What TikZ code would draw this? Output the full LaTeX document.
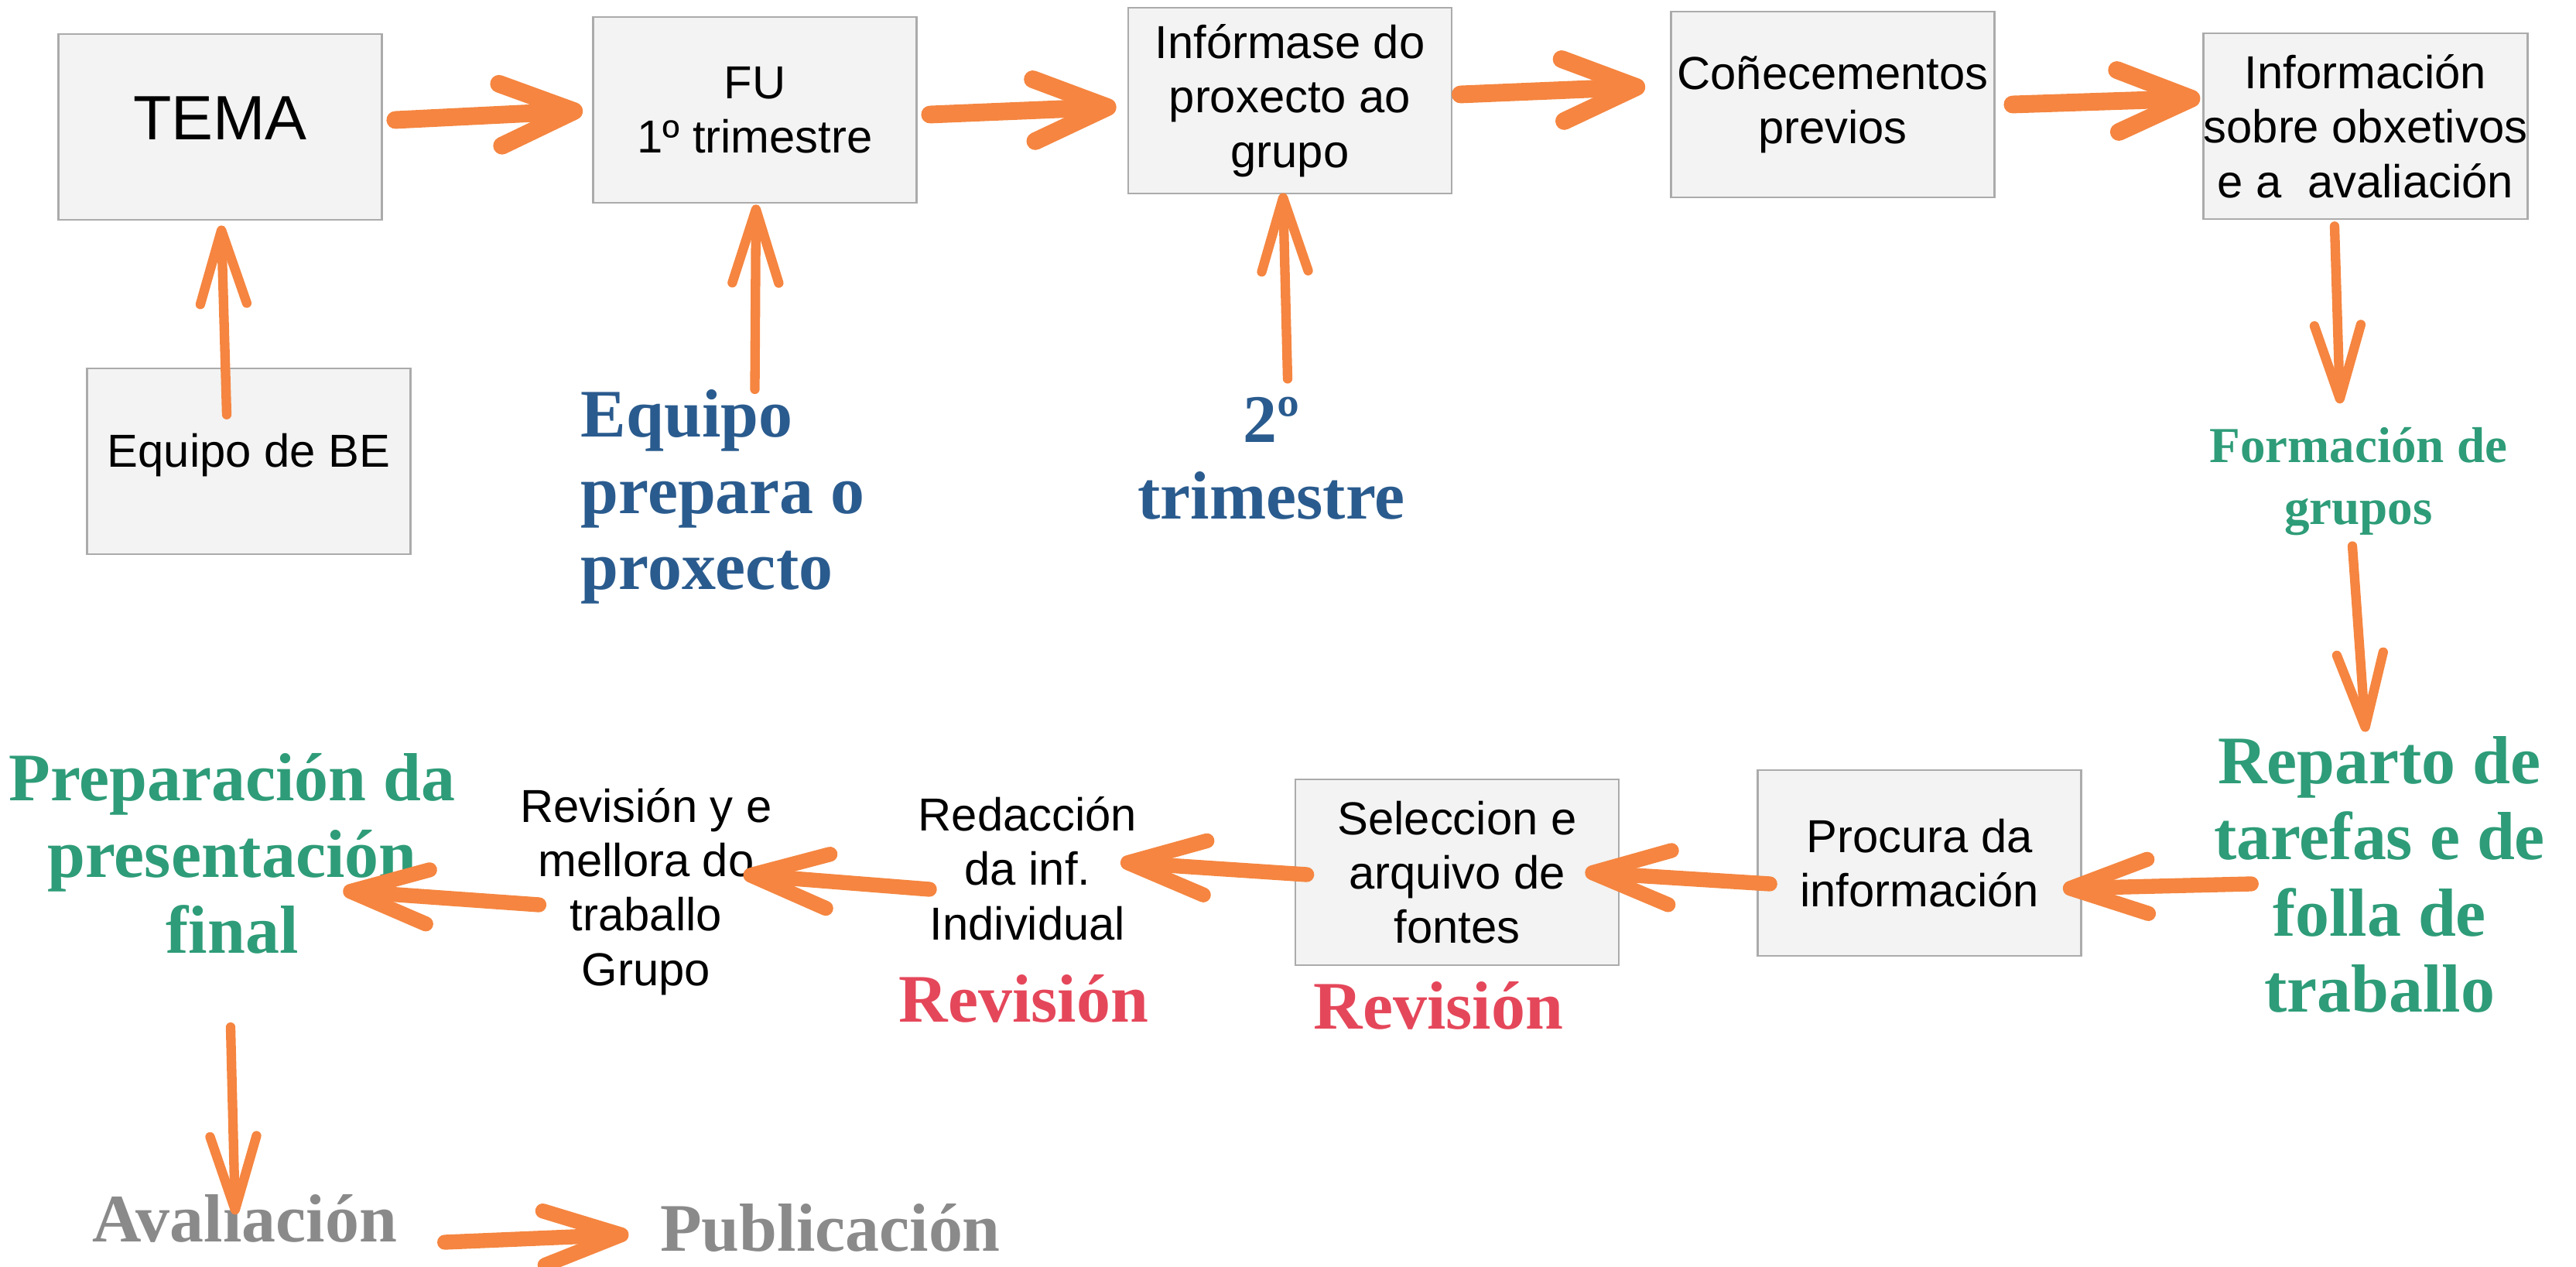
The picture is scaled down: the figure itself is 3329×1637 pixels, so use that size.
\documentclass[tikz,border=0pt]{standalone}
\usepackage{fontspec}
\setmainfont{Liberation Sans}
\newfontfamily\sketchfont{Liberation Serif}
\usepackage{tikz}
\usetikzlibrary{arrows.meta}

\definecolor{boxfill}{RGB}{242,243,242}
\definecolor{boxline}{RGB}{171,171,171}
\definecolor{arrowc}{RGB}{245,133,64}
\definecolor{inkblue}{RGB}{42,91,142}
\definecolor{inkgreen}{RGB}{46,156,120}
\definecolor{inkred}{RGB}{229,71,90}
\definecolor{inkgray}{RGB}{138,138,138}

\begin{document}
\begin{tikzpicture}[x=0.01cm,y=-0.01cm]
            \useasboundingbox (0,0) rectangle (3329,1637);

            \begin{scope}[every node/.style={draw=boxline,fill=boxfill,line width=0.7pt,
                          minimum width=4.18cm,minimum height=2.4cm,inner sep=0pt,
                          align=center,font=\fontsize{17}{20}\selectfont}]
                \node[text depth=0.22cm] (tema) at (284.5,164) {\fontsize{23}{26}\selectfont TEMA};
                \node (fu) at (975.5,142) {FU\\1º trimestre};
                \node[text depth=0.29cm] (equipobe) at (321.5,596) {Equipo de BE};
                \node (informase) at (1667,130) {Infórmase do\\proxecto ao\\grupo};
                \node (conecementos) at (2368.5,135) {Coñecementos\\previos};
                \node (informacion) at (3057,163) {Información\\sobre obxetivos\\e a\ \ avaliación};
                \node (procura) at (2480.5,1115) {Procura da\\información};
                \node (seleccion) at (1883,1127) {Seleccion e\\arquivo de\\fontes};
            \end{scope}

            \begin{scope}[every node/.style={align=center,inner sep=0pt,
                          font=\fontsize{17}{20}\selectfont}]
                \node (redaccion) at (1328,1122) {Redacción\\da inf.\\Individual};
                \node (revgrupo) at (835,1152) {Revisión y e\\mellora do\\traballo\\Grupo};
            \end{scope}

            \begin{scope}[every node/.style={align=center,inner sep=0pt,
                          font=\sketchfont\bfseries\fontsize{25}{28}\selectfont}]
                \node[text=inkblue,anchor=west,align=left] (equipoprep) at (750,642) {Equipo\\prepara o\\proxecto};
                \node[text=inkblue] (trimestre2) at (1643,592) {2º\\trimestre};
                \node[text=inkgreen,font=\sketchfont\bfseries\fontsize{18.5}{22.8}\selectfont] (formacion) at (3048,622) {Formación de\\grupos};
                \node[text=inkgreen] (reparto) at (3075,1130) {Reparto de\\tarefas e de\\folla de\\traballo};
                \node[text=inkred] (revseleccion) at (1859,1299) {Revisión};
                \node[text=inkred] (revredaccion) at (1323,1290) {Revisión};
                \node[text=inkgreen] (preparacion) at (300,1103) {Preparación da\\presentación\\final};
                \node[text=inkgray] (avaliacion) at (316,1574) {Avaliación};
                \node[text=inkgray] (publicacion) at (1073,1586) {Publicación};
            \end{scope}

            % fila de arriba
            \begin{scope}[>={Straight Barb[length=0.95cm,width=0.8cm,round]},
                          every edge/.style={draw=arrowc,line width=6.5pt,line cap=round}]
                \path [->] ([shift={(16,-9)}]tema.east) edge ([shift={(-12,1)}]fu.west);
                \path [->] ([shift={(16,6)}]fu.east) edge ([shift={(-14,8)}]informase.west);
                \path [->] ([shift={(10,-8)}]informase.east) edge ([shift={(-32,-23)}]conecementos.west);
                \path [->] ([shift={(22,0)}]conecementos.east) edge ([shift={(-3,-36)}]informacion.west);
            \end{scope}

            % frechas verticais
            \begin{scope}[>={Straight Barb[length=0.95cm,width=0.6cm,round]},
                          every edge/.style={draw=arrowc,line width=3.5pt,line cap=round}]
                \path [->] ([shift={(-28.5,61)}]equipobe.north) edge ([shift={(1.5,6)}]tema.south);
                \path [->] (equipoprep.north -| fu.south) edge ([shift={(1.5,1)}]fu.south);
                \path [->] ([shift={(21,-23)}]trimestre2.north) edge ([shift={(-9,-2)}]informase.south);
                \path [->] ([shift={(-40,8)}]informacion.south) edge ([shift={(-24,-30)}]formacion.north);
                \path [->] ([shift={(-8,13)}]formacion.south) edge ([shift={(-18,-5)}]reparto.north);
                \path [->] ([shift={(-2,94)}]preparacion.south) edge ([shift={(-12,27)}]avaliacion.north);
            \end{scope}

            % fila de abaixo
            \begin{scope}[>={Straight Barb[length=1cm,width=0.7cm,round]},
                          every edge/.style={draw=arrowc,line width=5.5pt,line cap=round}]
                \path [->] ([shift={(49,12)}]reparto.west) edge ([shift={(-25,33)}]procura.east);
                \path [->] ([shift={(17,27)}]procura.west) edge ([shift={(-45,0)}]seleccion.east);
                \path [->] ([shift={(16,3)}]seleccion.west) edge ([shift={(-22,-8)}]redaccion.east);
                \path [->] ([shift={(15,27)}]redaccion.west) edge ([shift={(-38,-22)}]revgrupo.east);
                \path [->] ([shift={(25,17)}]revgrupo.west) edge ([shift={(-146,48)}]preparacion.east);
                \path [->] ([shift={(61,31)}]avaliacion.east) edge ([shift={(-40,9)}]publicacion.west);
            \end{scope}
\end{tikzpicture}
\end{document}
